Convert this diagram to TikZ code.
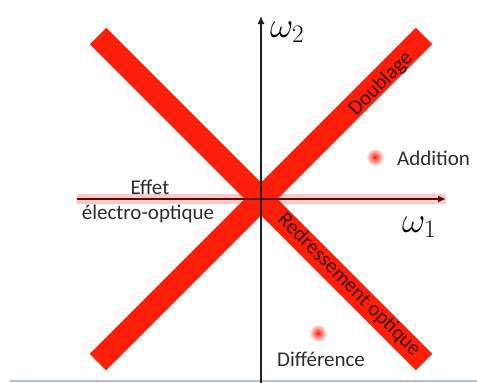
\RequirePackage{fix-cm}
\documentclass[tikz,border=0pt]{standalone}
\usepackage{fontspec}
\setmainfont{Carlito}
\usetikzlibrary{arrows.meta}
\definecolor{bandred}{RGB}{255,30,10}
\definecolor{txt}{RGB}{45,45,45}
\definecolor{bandtxt}{RGB}{60,10,5}
\definecolor{axisdark}{RGB}{30,30,30}
\definecolor{haxis}{RGB}{85,12,12}
\definecolor{halo}{RGB}{255,200,200}
\definecolor{frameline}{RGB}{182,190,198}
\begin{document}
\begin{tikzpicture}[x=1pt,y=-1pt,
  band/.style={line width=23pt, bandred},
  axisline/.style={line width=1.5pt, axisdark, -{Latex[length=8pt,width=7pt]}},
  lbl/.style={text=txt, font=\fontsize{21}{24}\selectfont, inner sep=0pt},
  bandlbl/.style={text=bandtxt, font=\fontsize{21}{24}\selectfont, inner sep=0pt},
  omega/.style={font=\fontsize{36}{38}\selectfont, inner sep=0pt},
  dot/.style={inner color=bandred, outer color=white},
]
\useasboundingbox (0,0) rectangle (477,383);
\fill[white] (0,0) rectangle (477,383);
% frame line at bottom
\draw[frameline, line width=2pt] (10,381) -- (477,381);
% coordinates
\coordinate (O) at (261,199);
\coordinate (ul) at (98,36);
\coordinate (lr) at (424,362);
\coordinate (ll) at (98,362);
\coordinate (ur) at (424,36);
\coordinate (hs) at (77,199);
\coordinate (he) at (446,199);
\coordinate (vs) at (261,383);
\coordinate (ve) at (261,16);
% horizontal halo (electro-optic effect)
\draw[halo, line width=10pt] (hs) -- (he);
% bands
\draw[band] (ul) -- (lr);
\draw[band] (ll) -- (ur);
% axes
\draw[axisline, haxis] (hs) -- (he);
\draw[axisline] (vs) -- (ve);
% axis labels
\node[omega, anchor=base west] (w2) at (270,37) {$\omega_2$};
\node[omega, anchor=base west] (w1) at (402,232) {$\omega_1$};
% dots
\shade[dot] (375,157) circle (9);
\shade[dot] (318,333) circle (9);
% labels
\node[lbl, anchor=west] (add) at (397,158) {Addition};
\node[lbl] (diff) at (321,359) {Différence};
\node[lbl] (effet) at (150,187) {Effet};
\node[lbl] (eo) at (148,214) {électro-optique};
\node[bandlbl, rotate=45] (doub) at (381,84) {Doublage};
\node[bandlbl, rotate=-45] (redr) at (349,285) {Redressement optique};
\end{tikzpicture}
\end{document}
